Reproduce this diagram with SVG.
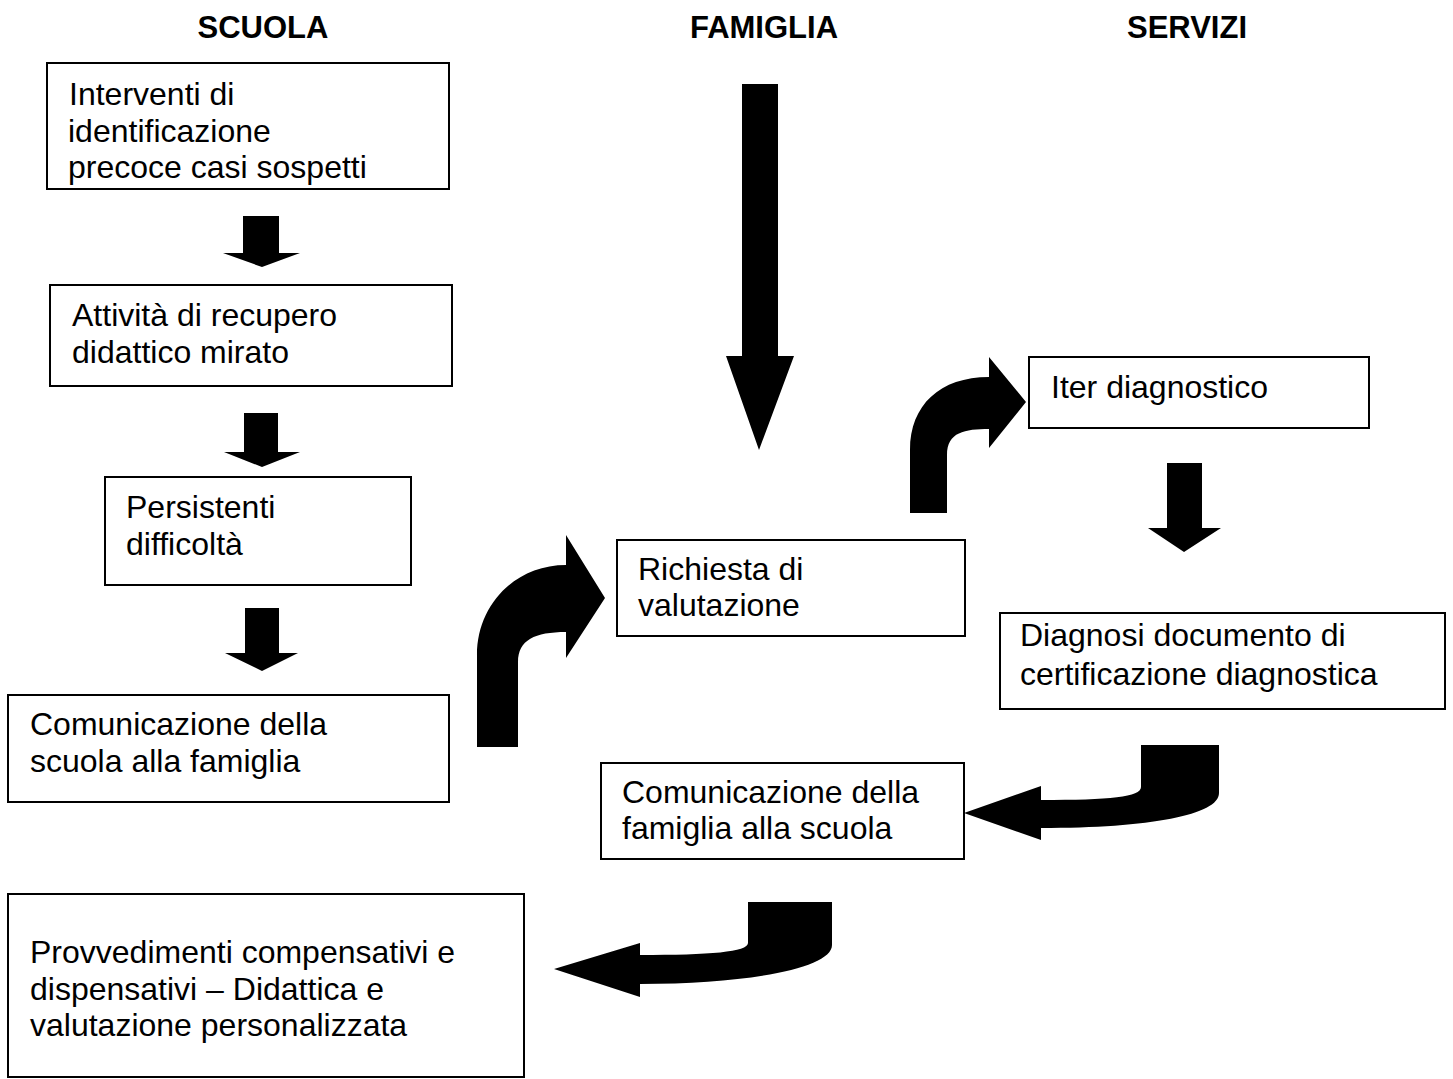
<svg xmlns="http://www.w3.org/2000/svg" width="1453" height="1079" viewBox="0 0 1453 1079">
<style>
.box{fill:#fff;stroke:#000;stroke-width:2}
.t{font-family:"Liberation Sans",Arial,sans-serif;font-size:32px;fill:#000}
.h{font-family:"Liberation Sans",Arial,sans-serif;font-size:31px;font-weight:bold;fill:#000;text-anchor:middle}
.a{fill:#000}
</style>
<rect width="1453" height="1079" fill="#fff"/>
<g id="headers">
<text class="h" x="263" y="38">SCUOLA</text>
<text class="h" x="764" y="38">FAMIGLIA</text>
<text class="h" x="1187" y="38">SERVIZI</text>
</g>
<g id="n1"><rect class="box" x="47" y="63" width="402" height="126"/>
<text class="t" x="69" y="105">Interventi di</text><text class="t" x="68" y="142">identificazione</text><text class="t" x="68" y="178">precoce casi sospetti</text></g>
<g id="n2"><rect class="box" x="50" y="285" width="402" height="101"/>
<text class="t" x="72" y="326">Attività di recupero</text><text class="t" x="72" y="363">didattico mirato</text></g>
<g id="n3"><rect class="box" x="105" y="477" width="306" height="108"/>
<text class="t" x="126" y="518">Persistenti</text><text class="t" x="126" y="555">difficoltà</text></g>
<g id="n4"><rect class="box" x="8" y="695" width="441" height="107"/>
<text class="t" x="30" y="735">Comunicazione della</text><text class="t" x="30" y="772">scuola alla famiglia</text></g>
<g id="n5"><rect class="box" x="617" y="540" width="348" height="96"/>
<text class="t" x="638" y="580">Richiesta di</text><text class="t" x="638" y="616">valutazione</text></g>
<g id="n6"><rect class="box" x="1029" y="357" width="340" height="71"/>
<text class="t" x="1051" y="398">Iter diagnostico</text></g>
<g id="n7"><rect class="box" x="1000" y="613" width="445" height="96"/>
<text class="t" x="1020" y="646">Diagnosi documento di</text><text class="t" x="1020" y="685">certificazione diagnostica</text></g>
<g id="n8"><rect class="box" x="601" y="763" width="363" height="96"/>
<text class="t" x="622" y="803">Comunicazione della</text><text class="t" x="622" y="839">famiglia alla scuola</text></g>
<g id="n9"><rect class="box" x="8" y="894" width="516" height="183"/>
<text class="t" x="30" y="963">Provvedimenti compensativi e</text><text class="t" x="30" y="1000">dispensativi – Didattica e</text><text class="t" x="30" y="1036">valutazione personalizzata</text></g>
<g id="connectors">
<polygon class="a" points="243,216 279,216 279,253 300,253 262,267 223,253 243,253"/>
<polygon class="a" points="244,413 278,413 278,452 300,452 262,467 224,452 244,452"/>
<polygon class="a" points="245,608 279,608 279,653 298,653 262,671 225,653 245,653"/>
<polygon class="a" points="742,84 778,84 778,356 794,356 759,450 726,356 742,356"/>
<polygon class="a" points="1167,463 1202,463 1202,528 1221,528 1184,552 1148,528 1167,528"/>
<path class="a" d="M477,747 L477,655 C477,605 515,565 566,565 L566,535 L605,598 L566,658 L566,632 C535,632 518,640 518,662 L518,747 Z"/>
<path class="a" d="M910,513 L910,450 C910,405 940,377 989,377 L989,357 L1026,402 L989,448 L989,429 C965,429 947,432 947,455 L947,513 Z"/>
<path class="a" d="M1141,745 L1219,745 L1219,793 C1219,815 1150,828 1041,828 L1041,840 L964,813 L1041,786 L1041,800 C1110,800 1141,797 1141,787 Z"/>
<path class="a" d="M748,902 L832,902 L832,945 C832,968 750,984 640,984 L640,997 L554,969 L640,943 L640,955 C710,955 748,952 748,943 Z"/>
</g>
</svg>
